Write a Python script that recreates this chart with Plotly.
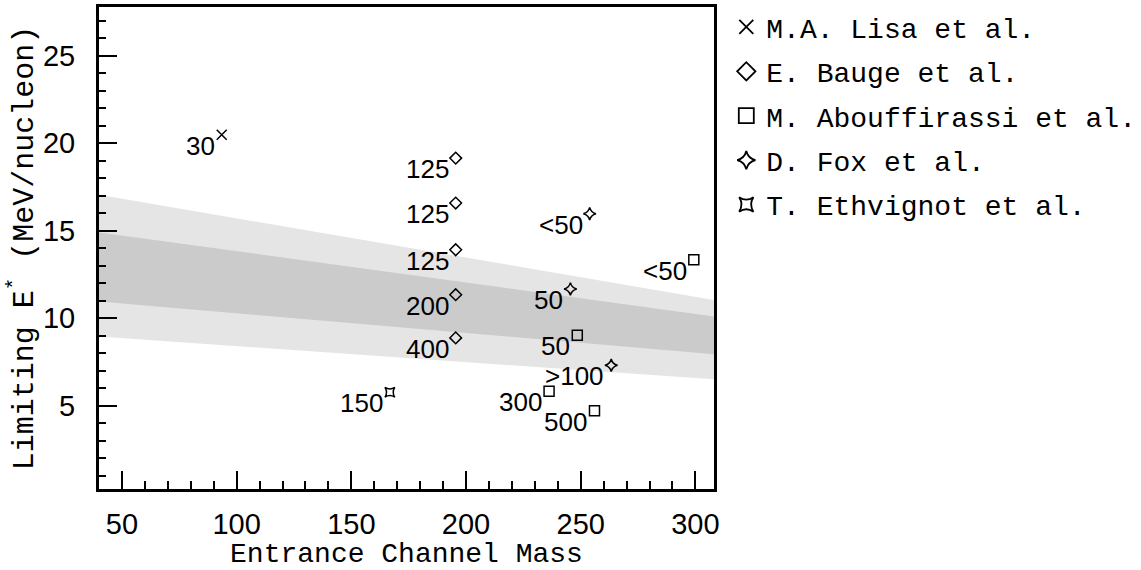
import plotly.graph_objects as go

# ---------------- data ----------------
band_mass = [40.0, 308.1]
light_lo = [8.95, 6.50]
light_hi = [17.05, 11.04]
dark_lo = [10.95, 7.94]
dark_hi = [14.9, 10.10]

lisa_mass = [93.5]
lisa_e = [20.49]
lisa_lab = ["30"]

bauge_mass = [195.5, 195.5, 195.5, 195.5, 195.5]
bauge_e = [19.15, 16.58, 13.91, 11.34, 8.87]
bauge_lab = ["125", "125", "125", "200", "400"]

abouf_mass = [299.3, 248.5, 236.2, 256.0]
abouf_e = [13.34, 9.02, 5.82, 4.71]
abouf_lab = ["<50", "50", "300", "500"]

fox_mass = [253.9, 245.5, 263.3]
fox_e = [15.97, 11.67, 7.30]
fox_lab = ["<50", "50", ">100"]

ethv_mass = [166.8]
ethv_e = [5.76]
ethv_lab = ["150"]

x_range = [40.0, 308.1]
y_range = [0.23, 27.79]

series = [
    ("M.A. Lisa et al.", lisa_mass, lisa_e, lisa_lab, "x-thin-open", 10, 14),
    ("E. Bauge et al.", bauge_mass, bauge_e, bauge_lab, "diamond-open", 9, 14),
    ("M. Abouffirassi et al.", abouf_mass, abouf_e, abouf_lab, "square-open", 10, 15),
    ("D. Fox et al.", fox_mass, fox_e, fox_lab, "star-diamond-open", 9, 13),
    ("T. Ethvignot et al.", ethv_mass, ethv_e, ethv_lab, "star-square-open", 9, 13),
]

TITLE_FONT = "Liberation Mono"
NUM_FONT = "Liberation Sans"

fig = go.Figure()

# bands
fig.add_trace(go.Scatter(x=band_mass, y=light_lo, mode="lines", line=dict(width=0),
                         showlegend=False, hoverinfo="skip"))
fig.add_trace(go.Scatter(x=band_mass, y=light_hi, mode="lines", line=dict(width=0),
                         fill="tonexty", fillcolor="#e5e5e5", showlegend=False, hoverinfo="skip"))
fig.add_trace(go.Scatter(x=band_mass, y=dark_lo, mode="lines", line=dict(width=0),
                         showlegend=False, hoverinfo="skip"))
fig.add_trace(go.Scatter(x=band_mass, y=dark_hi, mode="lines", line=dict(width=0),
                         fill="tonexty", fillcolor="#cbcbcb", showlegend=False, hoverinfo="skip"))

annotations = []
for i, (name, xs, ys, labs, sym, sz, lsz) in enumerate(series):
    fig.add_trace(go.Scatter(
        x=xs, y=ys, mode="markers", showlegend=False,
        marker=dict(symbol=sym, size=sz, color="black", line=dict(color="black", width=1.5)),
    ))
    # legend-only entry with larger symbol
    fig.add_trace(go.Scatter(
        x=[None], y=[None], mode="markers", name=name, legendgroup="g%d" % i,
        marker=dict(symbol=sym, size=lsz, color="black", line=dict(color="black", width=1.8)),
    ))
    for x, y, t in zip(xs, ys, labs):
        annotations.append(dict(
            x=x, y=y, xref="x", yref="y", text=t, showarrow=False,
            xanchor="right", yanchor="middle", xshift=-5, yshift=-11,
            font=dict(family=NUM_FONT, size=26, color="black"),
        ))

fig.update_layout(
    width=1141, height=570,
    margin=dict(l=99, r=427, t=7, b=81, autoexpand=False),
    paper_bgcolor="white", plot_bgcolor="white",
    annotations=annotations,
    legend=dict(
        x=1.02, y=1.01, xanchor="left", yanchor="top",
        font=dict(family=TITLE_FONT, size=28, color="black"),
        bgcolor="rgba(0,0,0,0)", borderwidth=0, tracegroupgap=5,
        itemwidth=30,
    ),
)

axis_common = dict(
    showgrid=False, zeroline=False, showline=True, linewidth=3, linecolor="black",
    mirror=True, ticks="inside", ticklen=18, tickwidth=2, tickcolor="black",
    tickfont=dict(family=NUM_FONT, size=29, color="black"),
)

fig.update_xaxes(
    range=x_range, tick0=0, dtick=50, **axis_common,
    minor=dict(dtick=10, tick0=0, ticks="inside", ticklen=8, tickwidth=2, tickcolor="black"),
    title_text="Entrance Channel Mass", title_standoff=0, ticklabelstandoff=7,
    title_font=dict(family=TITLE_FONT, size=28, color="black"),
)
fig.update_yaxes(
    range=y_range, tick0=0, dtick=5, **axis_common,
    minor=dict(dtick=1, tick0=0, ticks="inside", ticklen=7, tickwidth=2, tickcolor="black"),
    title_text="Limiting E<sup>*</sup> (MeV/nucleon)", title_standoff=1, ticklabelstandoff=15,
    title_font=dict(family=TITLE_FONT, size=30, color="black"),
)

fig.write_html("out.html")
